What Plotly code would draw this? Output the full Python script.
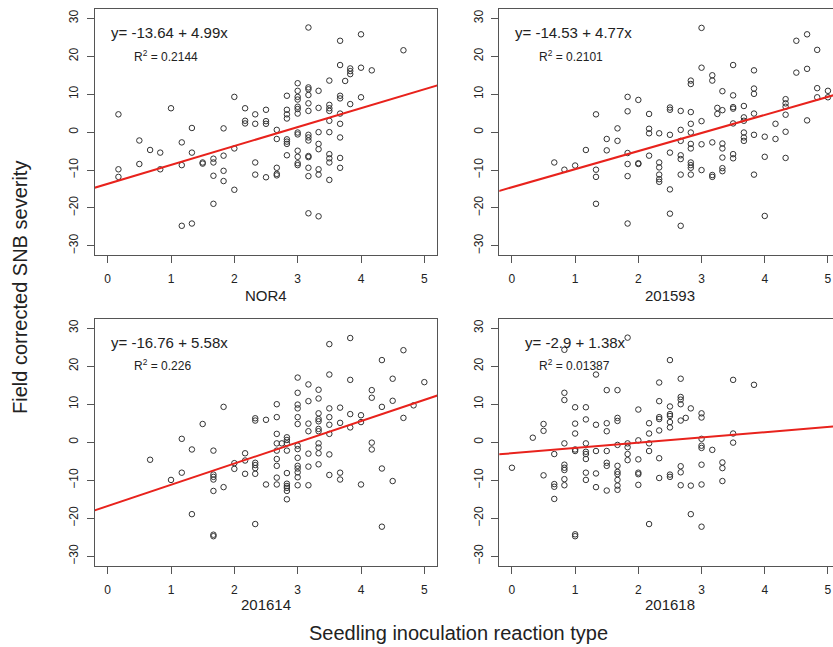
import plotly.graph_objects as go

panel_names = ["NOR4", "201593", "201614", "201618"]
intercepts = [-13.64, -14.53, -16.76, -2.9]
slopes = [4.99, 4.77, 5.58, 1.38]
r2_labels = ["0.2144", "0.2101", "0.226", "0.01387"]
eq_labels = ["y= -13.64 + 4.99x", "y= -14.53 + 4.77x", "y= -16.76 + 5.58x", "y= -2.9 + 1.38x"]
x_ticks = [0, 1, 2, 3, 4, 5]
y_ticks = [-30, -20, -10, 0, 10, 20, 30]

# Panel 1: NOR4
x_nor4 = [0.17, 0.17, 0.17, 0.5, 0.5, 0.67, 0.83, 0.83, 1.0, 1.17, 1.17, 1.17,
          1.33, 1.33, 1.33, 1.5, 1.5, 1.67, 1.67, 1.67, 1.67, 1.83, 1.83, 1.83, 1.83,
          2.0, 2.0, 2.0, 2.17, 2.17, 2.17, 2.33, 2.33, 2.33, 2.33, 2.5, 2.5, 2.5, 2.5,
          2.67, 2.67, 2.67, 2.67, 2.67,
          2.83, 2.83, 2.83, 2.83, 2.83, 2.83, 2.83, 2.83,
          3.0, 3.0, 3.0, 3.0, 3.0, 3.0, 3.0, 3.0, 3.0, 3.0, 3.0, 3.0, 3.0,
          3.17, 3.17, 3.17, 3.17, 3.17, 3.17, 3.17, 3.17, 3.17, 3.17, 3.17, 3.17, 3.17, 3.17,
          3.33, 3.33, 3.33, 3.33, 3.33, 3.33, 3.33, 3.33,
          3.5, 3.5, 3.5, 3.5, 3.5, 3.5, 3.5, 3.5, 3.5, 3.5,
          3.67, 3.67, 3.67, 3.67, 3.67, 3.67, 3.67, 3.67, 3.67,
          3.75, 3.83, 3.83, 3.83, 3.83, 4.0, 4.0, 4.0, 4.17, 4.67]
y_nor4 = [4.7, -9.8, -11.8, -2.2, -8.4, -4.7, -5.4, -9.8, 6.3, -2.7, -8.7, -24.7,
          1.1, -5.4, -24.1, -8.0, -8.3, -7.0, -8.0, -11.5, -18.9, 1.0, -6.2, -10.2, -12.9,
          9.3, -4.3, -15.2, 6.3, 3.0, 2.3, 4.7, 2.2, -8.0, -11.2, 5.9, 2.9, 2.2, -11.9,
          0.6, -1.8, -9.4, -11.0, -11.4,
          9.6, 5.9, 4.7, 3.6, -1.9, -2.5, -3.1, -6.1,
          12.9, 10.9, 9.3, 8.6, 6.7, 6.1, 4.9, -0.1, -0.6, -4.9, -6.5, -8.2, -8.7,
          27.6, 11.8, 11.3, 9.8, 7.6, 5.6, -0.7, -1.4, -2.2, -6.3, -6.6, -9.4, -11.6, -21.4,
          10.9, 6.4, 0.0, -3.1, -4.5, -9.8, -11.2, -22.2,
          13.6, 7.2, 6.3, 5.6, 3.0, 0.0, -5.8, -6.9, -8.0, -12.6,
          24.1, 17.7, 9.6, 8.9, 4.9, 2.2, -1.4, -6.8, -9.4,
          13.5, 16.8, 16.1, 15.3, 7.4, 25.8, 17.0, 9.2, 16.3, 21.6]

# Panel 2: 201593
x_201593 = [0.67, 0.83, 1.0, 1.17, 1.33, 1.33, 1.33, 1.33, 1.5, 1.5, 1.67, 1.67,
            1.83, 1.83, 1.83, 1.83, 1.83, 1.83, 2.0, 2.0, 2.0,
            2.17, 2.17, 2.17, 2.17, 2.33, 2.33, 2.33, 2.33, 2.33, 2.33,
            2.5, 2.5, 2.5, 2.5, 2.5, 2.5,
            2.67, 2.67, 2.67, 2.67, 2.67, 2.67, 2.67,
            2.83, 2.83, 2.83, 2.83, 2.83, 2.83, 2.83, 2.83, 2.83, 2.83, 2.83,
            3.0, 3.0, 3.0, 3.0, 3.0,
            3.17, 3.17, 3.17, 3.17, 3.17, 3.25, 3.25,
            3.33, 3.33, 3.33, 3.33, 3.33, 3.33, 3.33,
            3.5, 3.5, 3.5, 3.5, 3.5, 3.5, 3.5,
            3.67, 3.67, 3.67, 3.67, 3.67, 3.67,
            3.83, 3.83, 3.83, 3.83, 3.83, 3.83,
            4.0, 4.0, 4.0, 4.17, 4.17,
            4.33, 4.33, 4.33, 4.33, 4.33, 4.33,
            4.5, 4.5, 4.67, 4.67, 4.67, 4.83, 4.83, 4.83, 5.0, 5.0]
y_201593 = [-8.0, -9.9, -8.8, -4.7, 4.7, -9.9, -11.8, -18.9, -1.8, -4.8, 1.0, -2.3,
            9.3, 5.5, -5.5, -8.4, -11.6, -24.1, 8.5, -8.2, -8.4,
            4.8, 0.9, -0.3, -6.2, -0.3, -8.0, -9.3, -11.2, -12.4, -13.1,
            6.5, 5.9, -0.7, -5.4, -15.1, -21.5,
            5.6, 0.6, -2.3, -6.1, -7.1, -11.2, -24.7,
            13.6, 12.7, 5.3, 2.2, -0.1, -3.1, -4.3, -8.0, -8.7, -9.4, -11.2,
            27.5, 17.0, 2.9, -3.2, -10.0,
            15.0, 13.6, -2.7, -11.3, -11.8, 6.4, 4.8,
            10.8, 5.8, -3.0, -4.3, -6.7, -9.5, -10.3,
            17.7, 9.7, 6.6, 6.2, 2.3, -5.8, -6.9,
            6.9, 3.9, 3.0, -0.1, -1.4, -2.3,
            16.3, 11.5, 10.1, 4.9, -0.7, -11.2,
            -1.2, -6.5, -22.1, 2.2, -1.8,
            8.7, 7.6, 6.7, 4.6, 0.1, -6.8,
            24.1, 15.7, 25.8, 16.7, 3.1, 21.7, 11.6, 9.2, 10.9, 9.2]

# Panel 3: 201614
x_201614 = [0.67, 1.0, 1.17, 1.17, 1.33, 1.33, 1.5,
            1.67, 1.67, 1.67, 1.67, 1.67, 1.67, 1.67, 1.83, 1.83, 2.0, 2.0,
            2.17, 2.17, 2.17, 2.33, 2.33, 2.33, 2.33, 2.33, 2.33, 2.33, 2.5, 2.5,
            2.67, 2.67, 2.67, 2.67, 2.67, 2.67, 2.67, 2.67, 2.67, 2.75,
            2.83, 2.83, 2.83, 2.83, 2.83, 2.83, 2.83, 2.83, 2.83, 2.83,
            3.0, 3.0, 3.0, 3.0, 3.0, 3.0, 3.0, 3.0, 3.0, 3.0, 3.0, 3.0, 3.0, 3.0,
            3.17, 3.17, 3.17, 3.17, 3.17, 3.17, 3.17,
            3.33, 3.33, 3.33, 3.33, 3.33, 3.33, 3.33, 3.33, 3.33, 3.33, 3.33,
            3.5, 3.5, 3.5, 3.5, 3.5, 3.5, 3.5, 3.5,
            3.67, 3.67, 3.67, 3.67, 3.83, 3.83, 3.83, 3.83,
            4.0, 4.0, 4.0, 4.17, 4.17, 4.17, 4.17,
            4.33, 4.33, 4.33, 4.33, 4.5, 4.5, 4.5, 4.67, 4.67, 4.83, 5.0]
y_201614 = [-4.6, -9.9, 0.9, -8.0, -1.9, -18.9, 4.8,
            -2.2, -8.5, -9.1, -9.8, -12.8, -24.3, -24.7, 9.3, -11.8, -5.5, -7.0,
            -2.9, -4.8, -8.3, 6.3, 5.7, -5.4, -6.0, -6.8, -8.3, -21.5, 5.9, -11.1,
            10.0, 6.6, 2.2, -0.3, -2.2, -4.4, -6.2, -9.3, -11.1, -0.3,
            1.3, 0.6, -0.3, -2.2, -8.1, -10.9, -11.5, -12.0, -12.8, -15.0,
            17.0, 13.0, 9.9, 8.9, 6.6, 4.8, -0.9, -1.8, -4.1, -6.2, -6.9, -7.9, -9.2, -11.3,
            15.2, 10.8, 4.9, 2.9, -3.0, -6.4, -11.3,
            13.8, 11.5, 7.6, 6.1, 5.5, 3.5, 2.9, -0.3, -1.4, -2.9, -5.8,
            25.8, 17.8, 8.9, 6.6, 4.6, 2.2, -3.2, -8.6,
            9.1, 5.1, -8.0, -9.8, 27.4, 16.4, 7.4, 3.9,
            7.1, 5.3, -11.1, 13.7, 11.7, -0.1, -1.9,
            21.6, 9.3, -6.9, -22.2, 16.7, 10.9, -10.2, 24.2, 6.4, 9.7, 15.8]

# Panel 4: 201618
x_201618 = [0.0, 0.33, 0.5, 0.5, 0.5, 0.67, 0.67, 0.67, 0.67,
            0.83, 0.83, 0.83, 0.83, 0.83, 0.83, 0.83, 0.83, 0.83,
            1.0, 1.0, 1.0, 1.0, 1.0, 1.0, 1.0,
            1.17, 1.17, 1.17, 1.17, 1.17, 1.17, 1.17, 1.17,
            1.33, 1.33, 1.33, 1.33, 1.33,
            1.5, 1.5, 1.5, 1.5, 1.5, 1.5, 1.5,
            1.67, 1.67, 1.67, 1.67, 1.67, 1.67, 1.67, 1.67, 1.67, 1.67,
            1.83, 1.83, 1.83, 1.83, 1.83,
            2.0, 2.0, 2.0, 2.0, 2.0, 2.0,
            2.17, 2.17, 2.17, 2.17, 2.17,
            2.33, 2.33, 2.33, 2.33, 2.33, 2.33, 2.33,
            2.5, 2.5, 2.5, 2.5, 2.5, 2.5, 2.5, 2.5,
            2.67, 2.67, 2.67, 2.67, 2.67, 2.67, 2.67, 2.67, 2.75,
            2.83, 2.83, 2.83,
            3.0, 3.0, 3.0, 3.0, 3.0, 3.0, 3.0, 3.0,
            3.17, 3.33, 3.33, 3.33, 3.5, 3.5, 3.5, 3.83]
y_201618 = [-6.7, 1.2, 4.8, 3.0, -8.7, -3.1, -11.0, -11.7, -14.9,
            24.3, 13.0, 11.1, -0.3, -5.9, -6.7, -7.3, -9.7, -11.3,
            9.2, 4.9, 2.3, -1.9, -2.3, -24.2, -24.7,
            9.2, 6.0, -0.3, -2.5, -3.1, -4.4, -8.0, -9.9,
            17.8, 4.6, -2.3, -8.2, -11.8,
            13.7, 5.0, 2.9, -2.3, -5.4, -6.2, -12.7,
            13.7, 6.4, 5.6, -0.7, -6.2, -7.8, -8.4, -9.9, -11.4, -12.5,
            27.5, -0.3, -1.3, -3.1, -4.7,
            8.6, 0.5, -4.5, -8.0, -8.4, -11.2,
            5.0, 2.3, -0.3, -2.3, -21.5,
            15.7, 10.8, 6.6, 6.1, 3.1, -4.2, -9.4,
            21.6, 9.4, 7.4, 6.9, 5.3, 3.9, -8.5, -9.1,
            16.7, 11.9, 11.2, 10.0, 5.7, -6.3, -7.9, -11.3, 6.4,
            8.9, -11.4, -18.9,
            7.6, 6.5, 0.9, -0.9, -1.5, -5.9, -11.1, -22.2,
            -2.0, -5.3, -6.8, -10.2, 16.4, 2.3, -0.1, 15.1]

xs = [x_nor4, x_201593, x_201614, x_201618]
ys = [y_nor4, y_201593, y_201614, y_201618]

W, H = 833, 647
FONT = "Liberation Sans, Arial, Helvetica, sans-serif"
FRAME = "#555555"
TXT = "#222222"

# pixel geometry of the four plot boxes: (left, right, top, bottom)
boxes = [(95, 437, 9.3, 255), (499.3, 833, 9.3, 255),
         (95, 437, 319, 565.5), (499.3, 833, 319, 565.5)]
x_ranges = [[-0.2, 5.2], [-0.2, 5.08], [-0.2, 5.2], [-0.2, 5.08]]
y_range = [-32.4, 32.4]

fig = go.Figure()
layout = dict(width=W, height=H, margin=dict(l=0, r=0, t=0, b=0),
              paper_bgcolor="white", plot_bgcolor="white", showlegend=False,
              font=dict(family=FONT, color=TXT))
annotations = []

for i in range(4):
    sfx = "" if i == 0 else str(i + 1)
    xa, ya = "x" + sfx, "y" + sfx
    l, r, t, b = boxes[i]
    left_col = i in (0, 2)
    layout["xaxis" + sfx] = dict(
        domain=[l / W, r / W], range=x_ranges[i], anchor=ya,
        tickvals=x_ticks, ticks="outside", ticklen=7, tickcolor=FRAME, tickwidth=1,
        showline=True, linecolor=FRAME, linewidth=1, mirror=True,
        showgrid=False, zeroline=False, tickfont=dict(size=12, color=TXT),
        ticklabelstandoff=6)
    layout["yaxis" + sfx] = dict(
        domain=[1 - b / H, 1 - t / H], range=y_range, anchor=xa,
        tickvals=y_ticks, ticks="outside", ticklen=7, tickcolor=FRAME, tickwidth=1,
        showline=True, linecolor=FRAME, linewidth=1, mirror=left_col,
        showgrid=False, zeroline=False, tickangle=-90,
        tickfont=dict(size=12, color=TXT), ticklabelstandoff=4)

    fig.add_trace(go.Scatter(
        x=xs[i], y=ys[i], mode="markers", xaxis=xa, yaxis=ya,
        marker=dict(symbol="circle-open", size=5.5, color="#333333",
                    line=dict(width=1, color="#333333")),
        hoverinfo="skip"))
    lx = [-1, 6]
    fig.add_trace(go.Scatter(
        x=lx, y=[intercepts[i] + slopes[i] * v for v in lx], mode="lines",
        xaxis=xa, yaxis=ya, line=dict(color="#e8221c", width=2), hoverinfo="skip"))

    eq_x = 0.18 if i == 3 else 0.02
    annotations.append(dict(x=eq_x, y=26.2, xref=xa, yref=ya, text=eq_labels[i],
                            showarrow=False, xanchor="left", yanchor="middle",
                            font=dict(size=15, color=TXT)))
    annotations.append(dict(x=0.39, y=20.2, xref=xa, yref=ya,
                            text="R<sup>2</sup> = " + r2_labels[i],
                            showarrow=False, xanchor="left", yanchor="middle",
                            font=dict(size=12, color=TXT)))
    cx = (l + (840 if not left_col else r)) / 2
    ly = 295 if i < 2 else 604
    annotations.append(dict(x=cx / W, y=1 - ly / H, xref="paper", yref="paper",
                            text=panel_names[i], showarrow=False,
                            xanchor="center", yanchor="middle",
                            font=dict(size=15, color=TXT)))

annotations.append(dict(x=458 / W, y=1 - 633 / H, xref="paper", yref="paper",
                        text="Seedling inoculation reaction type", showarrow=False,
                        xanchor="center", yanchor="middle",
                        font=dict(size=20, color=TXT)))
annotations.append(dict(x=20 / W, y=1 - 288 / H, xref="paper", yref="paper",
                        text="Field corrected SNB severity", showarrow=False,
                        textangle=-90, xanchor="center", yanchor="middle",
                        font=dict(size=20, color=TXT)))
layout["annotations"] = annotations
fig.update_layout(**layout)
fig.write_html("out.html", config={"displayModeBar": False},
               post_script="document.body.style.margin='0';document.body.style.padding='0';")
